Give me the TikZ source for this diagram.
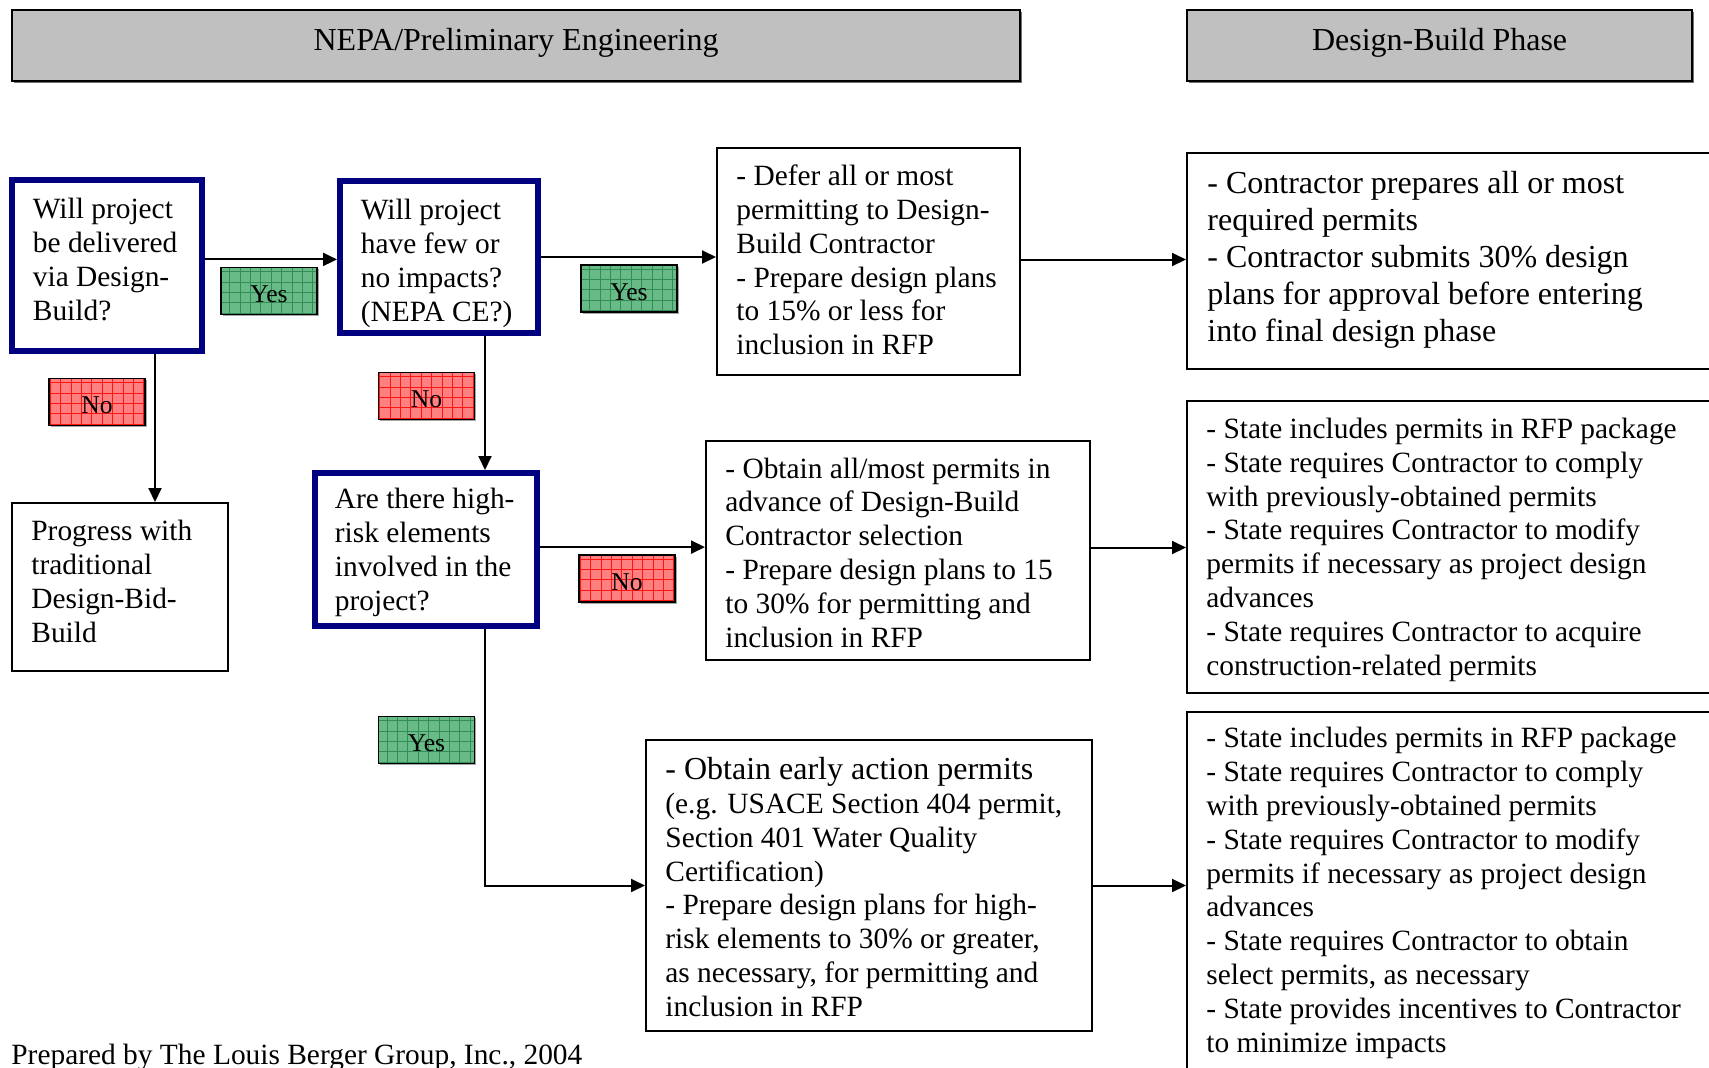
\documentclass[tikz,border=0pt]{standalone}
\usepackage{fontspec}
\setmainfont{Liberation Serif}
\usetikzlibrary{arrows.meta,calc,shadows}

\definecolor{hdrgray}{RGB}{192,192,192}
\definecolor{qnavy}{RGB}{0,0,128}
\definecolor{yesfill}{RGB}{104,186,134}
\definecolor{yesgrid}{RGB}{50,140,86}
\definecolor{nofill}{RGB}{255,128,128}
\definecolor{nogrid}{RGB}{255,20,20}

\newcommand\bodysize{\fontsize{14.7pt}{16.9pt}\selectfont}
\newcommand\largesize{\fontsize{16pt}{18.5pt}\selectfont}
\newcommand\tagsize{\fontsize{12.8pt}{15pt}\selectfont}

\begin{document}
\begin{tikzpicture}[x=0.5pt,y=-0.5pt,
  box/.style={draw=black, line width=1pt, fill=white, anchor=north west, inner sep=0pt},
  question/.style={box, draw=qnavy, line width=2.8pt},
  header/.style={draw=black, line width=1.1pt, fill=hdrgray, anchor=north west,
    inner sep=0pt, font=\largesize, text height=8pt, text depth=3.6pt,
    drop shadow={shadow xshift=0.9pt, shadow yshift=-0.9pt, fill=black!55, opacity=1}},
  txt/.style={anchor=west, align=left, inner sep=0pt, font=\bodysize},
  tag/.style={draw=black, line width=0.8pt, minimum width=48pt, minimum height=23.5pt,
    inner sep=0pt, font=\tagsize, text height=11.7pt, text depth=0pt,
    drop shadow={shadow xshift=0.8pt, shadow yshift=-0.8pt, fill=gray!70, opacity=1},
    path picture={\draw[line width=0.4pt, #1]
      (path picture bounding box.south west) grid[step=5.2pt]
      (path picture bounding box.north east);}},
  yestag/.style={tag=yesgrid, fill=yesfill},
  notag/.style={tag=nogrid, fill=nofill},
  arr/.style={line width=1pt, -{Triangle[length=7pt,width=6.5pt]}}
]
\useasboundingbox (0,0) rectangle (1709,1067);
\clip (0,0) rectangle (1709,1067);
\fill[white] (0,0) rectangle (1709,1067);

% phase headers
\node[header, minimum width=504pt, minimum height=35.5pt] (hdrA) at (11,9)
  {NEPA/Preliminary Engineering};
\node[header, minimum width=252.5pt, minimum height=35.5pt] (hdrB) at (1186,9)
  {Design-Build Phase};

% decision boxes
\node[question, minimum width=95.2pt, minimum height=85.7pt] (A) at (9,177) {};
\node[txt] (At) at ($(A.west)+(23.5,-6)$)
  {Will project\\be delivered\\via Design-\\Build?};

\node[question, minimum width=99.2pt, minimum height=76.2pt] (B) at (337,178) {};
\node[txt] (Bt) at ($(B.west)+(23.5,6.5)$)
  {Will project\\have few or\\no impacts?\\(NEPA CE?)};

\node[question, minimum width=111.2pt, minimum height=76.7pt] (C) at (312,470) {};
\node[txt] (Ct) at ($(C.west)+(22.5,3)$)
  {Are there high-\\risk elements\\involved in the\\project?};

% outcome boxes
\node[box, minimum width=108pt, minimum height=84pt] (P) at (11,502) {};
\node[txt] (Pt) at ($(P.west)+(20,-5.5)$)
  {Progress with\\traditional\\Design-Bid-\\Build};

\node[box, minimum width=151.5pt, minimum height=113.5pt] (D) at (716,147) {};
\node[txt] (Dt) at ($(D.west)+(20,-1.5)$)
  {- Defer all or most\\permitting to Design-\\Build Contractor\\- Prepare design plans\\to 15\% or less for\\inclusion in RFP};

\node[box, minimum width=192pt, minimum height=109.5pt] (F) at (705,440) {};
\node[txt] (Ft) at ($(F.west)+(20,2)$)
  {- Obtain all/most permits in\\advance of Design-Build\\Contractor selection\\- Prepare design plans to 15\\to 30\% for permitting and\\inclusion in RFP};

\node[box, minimum width=223pt, minimum height=145.5pt] (H) at (645,739) {};
\node[txt] (Ht) at ($(H.west)+(20,1.6)$)
  {{\largesize - Obtain early action permits}\\(e.g. USACE Section 404 permit,\\Section 401 Water Quality\\Certification)\\- Prepare design plans for high-\\risk elements to 30\% or greater,\\as necessary, for permitting and\\inclusion in RFP};

% design-build phase boxes
\node[box, minimum width=270pt, minimum height=108pt] (E) at (1186,152) {};
\node[txt, font=\largesize] (Et) at ($(E.west)+(21,-1)$)
  {- Contractor prepares all or most\\required permits\\- Contractor submits 30\% design\\plans for approval before entering\\into final design phase};

\node[box, minimum width=270pt, minimum height=146pt] (G) at (1186,400) {};
\node[txt] (Gt) at ($(G.west)+(20,2.7)$)
  {- State includes permits in RFP package\\- State requires Contractor to comply\\with previously-obtained permits\\- State requires Contractor to modify\\permits if necessary as project design\\advances\\- State requires Contractor to acquire\\construction-related permits};

\node[box, minimum width=270pt, minimum height=181pt] (I) at (1186,711) {};
\node[txt] (It) at ($(I.west)+(20,0)$)
  {- State includes permits in RFP package\\- State requires Contractor to comply\\with previously-obtained permits\\- State requires Contractor to modify\\permits if necessary as project design\\advances\\- State requires Contractor to obtain\\select permits, as necessary\\- State provides incentives to Contractor\\to minimize impacts};

% connectors
\coordinate (ab) at ([yshift=-1.2pt]B.west);
\draw[arr] (A.east |- ab) -- (ab);
\draw[arr] (B.east) -- (B.east -| D.west);
\coordinate (de) at ([yshift=1pt]D.east);
\draw[arr] (de) -- (de -| E.west);
\coordinate (a1) at ($(A.south)+(48,0)$);
\draw[arr] (a1) -- (a1 |- P.north);
\coordinate (b1) at ($(B.south)+(46,0)$);
\draw[arr] (b1) -- (b1 |- C.north);
\coordinate (cf) at ([yshift=1.2pt]C.east);
\draw[arr] (cf) -- (cf -| F.west);
\coordinate (fg) at ([yshift=1.5pt]F.east);
\draw[arr] (fg) -- (fg -| G.west);
\coordinate (c1) at ($(C.south)+(59,0)$);
\draw[arr] (c1) |- (H.west);
\draw[arr] (H.east) -- (H.east -| I.west);

% answer tags
\node[yestag] (yes1) at (269,291) {Yes};
\node[notag]  (no1)  at (97,402)  {No};
\node[notag]  (no2)  at (426.5,396) {No};
\node[yestag] (yes2) at (629,288.5) {Yes};
\node[notag]  (no3)  at (627,578.5) {No};
\node[yestag] (yes3) at (426.5,740) {Yes};

% credit line
\node[anchor=base west, inner sep=0pt, font=\bodysize] (credit) at (11,1064)
  {Prepared by The Louis Berger Group, Inc., 2004};
\end{tikzpicture}
\end{document}
